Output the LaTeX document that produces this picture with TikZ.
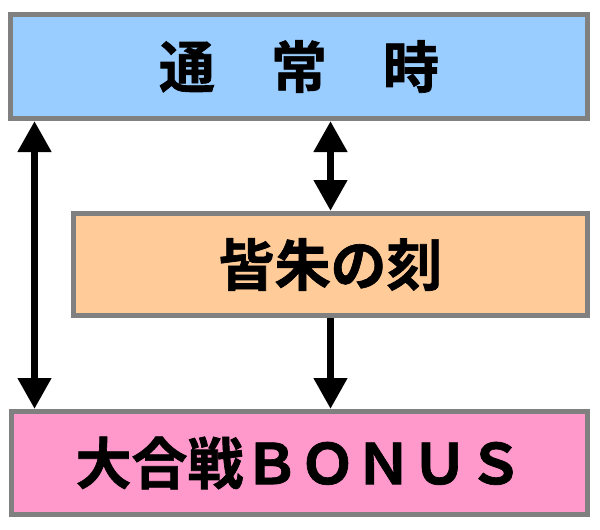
\documentclass[tikz,border=0pt]{standalone}
\usepackage{fontspec}
\newfontfamily\jp{Noto Sans CJK JP Bold}[FakeBold=1.2]
\usetikzlibrary{arrows.meta}

\definecolor{tsujoblue}{HTML}{99CCFF}
\definecolor{kaishuorange}{HTML}{FFCC99}
\definecolor{bonuspink}{HTML}{FF99CC}
\definecolor{framegray}{HTML}{808080}

\begin{document}
\begin{tikzpicture}[x=1pt,y=-1pt,
	state/.style={draw=framegray,line width=5pt,rectangle,inner sep=0pt,font=\jp\fontsize{56}{60}\selectfont},
	flow/.style={line width=7.5pt,-{Triangle[length=31pt,width=32pt]}},
	twoway/.style={line width=7.5pt,{Triangle[length=31pt,width=32pt]}-{Triangle[length=31pt,width=32pt]}}]
	\useasboundingbox (0,0) rectangle (600,530);
	
	\node[state,fill=tsujoblue,minimum width=577pt,minimum height=104pt] (tsujo) at (299,66.5) {通　常　時};
	\node[state,fill=kaishuorange,minimum width=514pt,minimum height=102pt] (kaishu) at (330.5,264.5) {皆朱の刻};
	\node[state,fill=bonuspink,minimum width=576pt,minimum height=103pt] (bonus) at (299.5,463) {大合戦ＢＯＮＵＳ};
	
	\draw[twoway] ([xshift=26.5pt]tsujo.south west) -- ([xshift=26.5pt]tsujo.south west |- bonus.north);
	\draw[twoway] (kaishu.north) -- (kaishu.north |- tsujo.south);
	\draw[flow] (kaishu.south) -- (kaishu.south |- bonus.north);
\end{tikzpicture}
\end{document}
